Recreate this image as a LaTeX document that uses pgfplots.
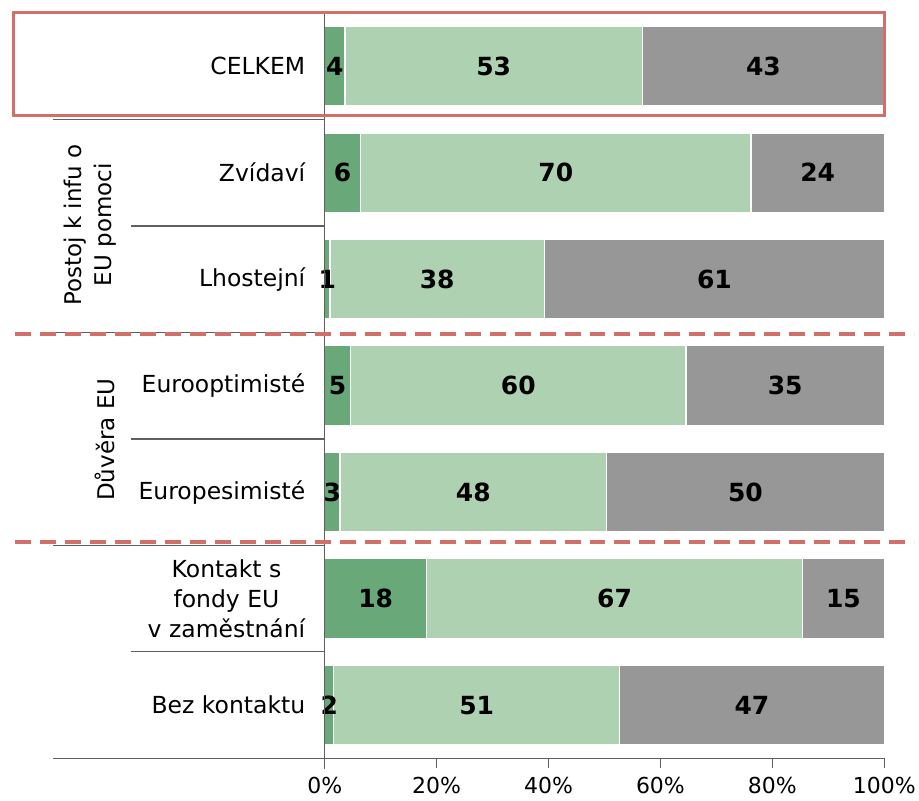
\documentclass[border=0pt]{standalone}
\usepackage{pgfplots}
\pgfplotsset{compat=1.18}
\usepackage{pgfplotstable}
\usepackage{fontspec}
\setmainfont{DejaVu Sans}

\definecolor{dkgreen}{RGB}{104,168,121}
\definecolor{ltgreen}{RGB}{174,209,177}
\definecolor{bargray}{RGB}{151,151,151}
\definecolor{redline}{RGB}{208,112,104}
\definecolor{sepgray}{RGB}{95,95,95}

% podily v %, radky odshora
\pgfplotstableread{
y a b c
0 3.6 53.2 43.2
1 6.4 69.8 23.8
2 0.9 38.4 60.7
3 4.6 60.0 35.4
4 2.7 47.7 49.6
5 18.2 67.2 14.6
6 1.6 51.1 47.3
}\datatable

\pgfplotsset{
  base/.style={
    scale only axis, width=560pt, height=746pt,
    xmin=0, xmax=100, ymin=-0.5, ymax=6.5, y dir=reverse,
    /pgf/number format/assume math mode=true,
  },
}

\begin{document}
\begin{tikzpicture}[x=1pt,y=1pt]
\path (-325,-42) rectangle (594,759);
\begin{axis}[base,
  xbar stacked, bar width=80pt,
  axis line style={draw=none},
  xtick={0,20,...,100},
  xtick pos=bottom, ytick pos=left,
  xticklabel={\pgfmathprintnumber{\tick}\%},
  tick style={draw=none},
  ytick={0,...,6},
  yticklabels={CELKEM,Zvídaví,Lhostejní,Eurooptimisté,Europesimisté,{Kontakt s\\fondy EU\\v zaměstnání},Bez kontaktu},
  yticklabel style={font=\fontsize{23.5}{30}\selectfont, align=center, xshift=-16pt},
  xticklabel style={font=\fontsize{22}{26}\selectfont, yshift=-15pt},
  clip=false,
]
\addplot[fill=dkgreen, draw=white, line width=1.5pt] table[x=a,y=y] {\datatable};
\addplot[fill=ltgreen, draw=white, line width=1.5pt] table[x=b,y=y] {\datatable};
\addplot[fill=bargray, draw=white, line width=1.5pt] table[x=c,y=y] {\datatable};
\end{axis}

% popisky hodnot uprostred segmentu
\begin{axis}[base, hide axis, clip=false,
  nodes near coords={\pgfmathprintnumber[fixed,precision=0]{\pgfplotspointmeta}},
  every node near coord/.append style={anchor=center, font=\fontsize{25}{30}\selectfont\bfseries, text=black},
]
\addplot[draw=none, mark=none, point meta=\thisrow{a}] table[x expr=\thisrow{a}/2, y=y] {\datatable};
\addplot[draw=none, mark=none, point meta=\thisrow{b}] table[x expr=\thisrow{a}+\thisrow{b}/2, y=y] {\datatable};
\addplot[draw=none, mark=none, point meta=\thisrow{c}] table[x expr=\thisrow{a}+\thisrow{b}+\thisrow{c}/2, y=y] {\datatable};
\end{axis}

\begin{scope}[sepgray, line width=1.2pt]
\draw (-272,639.43) -- (0,639.43);
\draw (-194,532.86) -- (0,532.86);
\draw (-272,426.29) -- (0,426.29);
\draw (-194,319.71) -- (0,319.71);
\draw (-272,213.14) -- (0,213.14);
\draw (-194,106.57) -- (0,106.57);
\draw (-272,0) -- (560,0);
\draw (0,-11) -- (0,746);
\end{scope}
% znacky na ose x
\fill[sepgray] (111.3,0) rectangle (112.7,-10);
\fill[sepgray] (223.3,0) rectangle (224.7,-10);
\fill[sepgray] (335.3,0) rectangle (336.7,-10);
\fill[sepgray] (447.3,0) rectangle (448.7,-10);
\fill[sepgray] (559.3,0) rectangle (560.7,-10);
\draw[redline, line width=3pt] (-311,643) rectangle (560,746);
\draw[redline, line width=4pt, dash pattern=on 16pt off 9pt] (-310,425) -- (590,425);
\draw[redline, line width=4pt, dash pattern=on 16pt off 9pt] (-310,217) -- (590,217);
\node[rotate=90, align=center, font=\fontsize{23}{30}\selectfont] at (-235,534) {Postoj k infu o\\EU pomoci};
\node[rotate=90, font=\fontsize{23}{30}\selectfont] at (-220,319) {Důvěra EU};
\end{tikzpicture}
\end{document}
